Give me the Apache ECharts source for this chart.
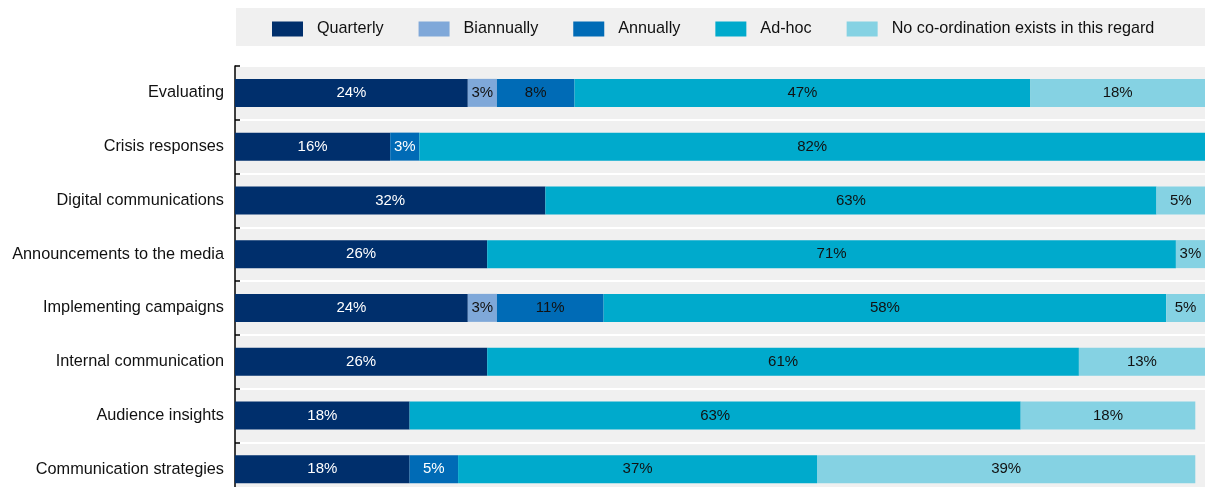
<!DOCTYPE html>
<html>
<head>
<meta charset="utf-8">
<script src="https://cdn.jsdelivr.net/npm/echarts@6/dist/echarts.min.js"></script>
<style>
  html, body { margin: 0; padding: 0; background: #fff; }
  #chart { width: 1205px; height: 487px; }
</style>
</head>
<body>
<div id="chart"></div>
<script>
// Frequency of co-ordination, share of respondents (%), by communication activity
const categories = [
  'Evaluating',
  'Crisis responses',
  'Digital communications',
  'Announcements to the media',
  'Implementing campaigns',
  'Internal communication',
  'Audience insights',
  'Communication strategies'
];
const seriesNames = ['Quarterly', 'Biannually', 'Annually', 'Ad-hoc', 'No co-ordination exists in this regard'];
const quarterly   = [24, 16, 32, 26, 24, 26, 18, 18];
const biannually  = [3, 0, 0, 0, 3, 0, 0, 0];
const annually    = [8, 3, 0, 0, 11, 0, 0, 5];
const adHoc       = [47, 82, 63, 71, 58, 61, 63, 37];
const noCoord     = [18, 0, 5, 3, 5, 13, 18, 39];

// Styling
const FONT = "'Liberation Sans', Arial, sans-serif";
const colors = ['#002f6c', '#7fa8d9', '#006bb6', '#00aacc', '#85d2e3'];
const labelInk = ['#ffffff', '#111111', '#111111', '#111111', '#111111'];
const whiteAnnualLabels = new Set(['Crisis responses', 'Communication strategies']);

const values = [quarterly, biannually, annually, adHoc, noCoord];

const series = seriesNames.map((name, si) => ({
  name,
  type: 'bar',
  stack: 'total',
  barWidth: 28,
  itemStyle: { color: colors[si] },
  label: {
    show: true,
    position: 'inside',
    color: labelInk[si],
    fontFamily: FONT,
    fontSize: 15,
    formatter: p => (p.value > 0 ? p.value + '%' : '')
  },
  data: values[si].map((v, ci) => {
    if (si === 2 && whiteAnnualLabels.has(categories[ci])) {
      return { value: v, label: { color: '#ffffff' } };
    }
    return v;
  })
}));

const chart = echarts.init(document.getElementById('chart'), null, { renderer: 'canvas' });
chart.setOption({
  animation: false,
  backgroundColor: '#ffffff',
  graphic: [{
    type: 'rect',
    z: -1,
    shape: { x: 236, y: 8, width: 969, height: 38 },
    style: { fill: '#f0f0f0' }
  }],
  legend: {
    left: 272,
    top: 21,
    width: 930,
    padding: 0,
    icon: 'rect',
    itemWidth: 31,
    itemHeight: 15,
    itemGap: 35,
    textStyle: { fontFamily: FONT, fontSize: 16.2, color: '#111', padding: [0, 0, 0, 9] },
    data: seriesNames
  },
  grid: { left: 235, right: 0, top: 66, height: 430, containLabel: false, outerBoundsMode: 'none' },
  xAxis: {
    type: 'value',
    min: 0,
    max: 100,
    show: false
  },
  yAxis: {
    type: 'category',
    inverse: true,
    data: categories,
    axisLine: { show: true, lineStyle: { color: '#000', width: 1.5 } },
    axisTick: { show: true, inside: true, length: 5, lineStyle: { color: '#000', width: 1.5 } },
    axisLabel: { fontFamily: FONT, fontSize: 16.3, color: '#111', margin: 11 },
    splitArea: { show: true, areaStyle: { color: ['#f0f0f0', '#f0f0f0'] } },
    splitLine: { show: true, lineStyle: { color: '#ffffff', width: 2 } }
  },
  series
});
</script>
</body>
</html>
